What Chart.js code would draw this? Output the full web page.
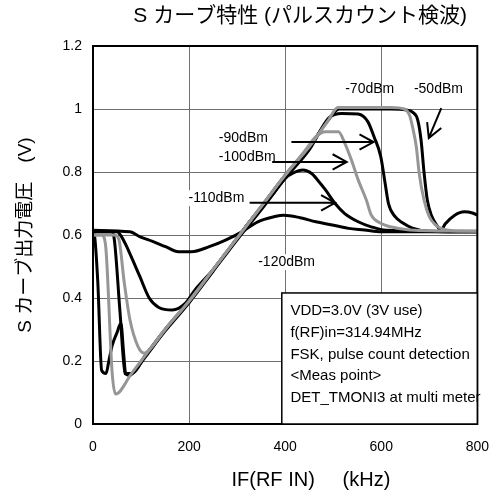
<!DOCTYPE html>
<html>
<head>
<meta charset="utf-8">
<script src="https://cdn.jsdelivr.net/npm/chart.js@4.4.0/dist/chart.umd.min.js"></script>
<style>
html, body { margin: 0; padding: 0; background: #fff; }
</style>
</head>
<body>
<canvas id="sCurve" width="504" height="497"></canvas>
<script>
// IF (kHz) / Sカーブ出力電圧 (V)
const ifM50 = [0, 3, 10, 18, 27, 33, 40, 50, 58, 64, 68, 80, 110, 150, 200, 250, 300, 350, 400, 450, 490, 512, 560, 620, 652, 665, 676, 683, 689, 696, 705, 716, 724, 733, 753, 773, 790, 800];
const vM50  = [0.61, 0.60, 0.45, 0.17, 0.16, 0.20, 0.25, 0.29, 0.32, 0.22, 0.16, 0.16, 0.22, 0.30, 0.39, 0.49, 0.59, 0.69, 0.79, 0.88, 0.965, 1.0, 1.0, 1.0, 0.997, 0.99, 0.965, 0.90, 0.80, 0.71, 0.66, 0.63, 0.615, 0.635, 0.663, 0.674, 0.67, 0.663];

const ifM70 = [0, 18, 26, 40, 47, 80, 110, 150, 200, 250, 300, 350, 400, 450, 490, 510, 560, 620, 648, 659, 665, 673, 679, 689, 700, 713, 726, 760, 800];
const vM70  = [0.60, 0.60, 0.57, 0.16, 0.095, 0.16, 0.22, 0.30, 0.39, 0.49, 0.59, 0.69, 0.79, 0.88, 0.965, 1.005, 1.005, 1.005, 1.0, 0.98, 0.944, 0.88, 0.796, 0.711, 0.658, 0.632, 0.62, 0.613, 0.613];

const ifM90 = [0, 38, 44, 56, 67, 77, 90, 110, 150, 200, 250, 300, 350, 400, 450, 491, 518, 552, 572, 585, 599, 608, 615, 629, 645, 665, 700, 800];
const vM90  = [0.61, 0.61, 0.59, 0.36, 0.16, 0.155, 0.175, 0.215, 0.295, 0.385, 0.485, 0.585, 0.68, 0.78, 0.87, 0.972, 0.986, 0.984, 0.96, 0.912, 0.849, 0.765, 0.70, 0.658, 0.638, 0.622, 0.612, 0.61];

const ifM100 = [0, 45, 54, 65, 77, 94, 107, 120, 150, 200, 250, 300, 350, 400, 440, 464, 484, 511, 524, 538, 552, 569, 579, 599, 619, 659, 800];
const vM100  = [0.60, 0.60, 0.585, 0.45, 0.33, 0.245, 0.225, 0.24, 0.30, 0.39, 0.49, 0.59, 0.69, 0.79, 0.865, 0.912, 0.928, 0.928, 0.892, 0.838, 0.775, 0.711, 0.664, 0.637, 0.626, 0.616, 0.612];

const ifM110 = [0, 50, 57, 68, 77, 97, 117, 137, 165, 192, 212, 250, 300, 330, 377, 400, 417, 437, 455, 470, 484, 504, 524, 552, 579, 610, 800];
const vM110  = [0.61, 0.61, 0.60, 0.57, 0.54, 0.47, 0.40, 0.37, 0.362, 0.383, 0.425, 0.49, 0.59, 0.65, 0.735, 0.78, 0.797, 0.806, 0.795, 0.77, 0.743, 0.70, 0.668, 0.642, 0.626, 0.615, 0.61];

const ifM120 = [0, 77, 97, 124, 151, 178, 205, 242, 276, 310, 343, 377, 397, 431, 464, 498, 532, 565, 600, 800];
const vM120  = [0.615, 0.61, 0.595, 0.58, 0.563, 0.547, 0.547, 0.563, 0.584, 0.61, 0.642, 0.658, 0.663, 0.655, 0.642, 0.632, 0.621, 0.616, 0.61, 0.61];

const infoLines = [
    "VDD=3.0V (3V use)",
    "f(RF)in=314.94MHz",
    "FSK, pulse count detection",
    "<Meas point>",
    "DET_TMONI3 at multi meter"
];

const LATIN = '"Liberation Sans", Arial, sans-serif';
const MIXED = '"Liberation Sans", "Noto Sans CJK JP", sans-serif';

function pts(xs, ys) {
    return xs.map((v, i) => ({x: v, y: ys[i]}));
}

function curve(label, xs, ys, color, order) {
    return {
        label: label,
        data: pts(xs, ys),
        borderColor: color,
        borderWidth: 3,
        pointRadius: 0,
        cubicInterpolationMode: "monotone",
        order: order
    };
}

/*
Zeichnet ein offenes Pfeil-Ende.
 */
function arrow(ctx, x1, y1, x2, y2) {
    const ang = Math.atan2(y2 - y1, x2 - x1);
    const len = 16, spread = 0.5;
    ctx.beginPath();
    ctx.moveTo(x1, y1);
    ctx.lineTo(x2, y2);
    ctx.moveTo(x2 - len * Math.cos(ang - spread), y2 - len * Math.sin(ang - spread));
    ctx.lineTo(x2, y2);
    ctx.lineTo(x2 - len * Math.cos(ang + spread), y2 - len * Math.sin(ang + spread));
    ctx.stroke();
}

// labels, arrows, frame, info box, titles
const decorations = {
    id: "decorations",
    afterDatasetsDraw(chart) {
        const {ctx, chartArea: a, scales: {x, y}} = chart;
        const px = v => x.getPixelForValue(v);
        const py = v => y.getPixelForValue(v);
        ctx.save();

        // frame
        ctx.strokeStyle = "#000";
        ctx.lineWidth = 2;
        ctx.strokeRect(a.left, a.top, a.right - a.left, a.bottom - a.top);

        ctx.font = "14px " + LATIN;
        ctx.fillStyle = "#000";
        ctx.textBaseline = "middle";

        // white backed labels
        [["-110dBm", 199, 0.717, "left"], ["-120dBm", 403, 0.514, "center"]].forEach(l => {
            ctx.textAlign = l[3];
            const w = ctx.measureText(l[0]).width;
            const x0 = l[3] === "center" ? px(l[1]) - w / 2 : px(l[1]);
            ctx.fillStyle = "#fff";
            ctx.fillRect(x0 - 1, py(l[2]) - 8, w + 2, 16);
            ctx.fillStyle = "#000";
            ctx.fillText(l[0], px(l[1]), py(l[2]));
        });
        ctx.textAlign = "center";
        ctx.fillText("-70dBm", px(576), py(1.063));
        ctx.fillText("-50dBm", px(719), py(1.063));
        ctx.textAlign = "left";
        ctx.fillText("-90dBm", px(262), py(0.908));
        ctx.fillText("-100dBm", px(262), py(0.846));

        ctx.lineWidth = 2;
        arrow(ctx, px(725), py(1.003), px(699), py(0.908));
        arrow(ctx, px(413), py(0.895), px(584), py(0.895));
        arrow(ctx, px(373), py(0.832), px(528), py(0.832));
        arrow(ctx, px(326), py(0.702), px(504), py(0.702));

        // info box
        const bx = px(393), by = py(0.416);
        ctx.fillStyle = "#fff";
        ctx.fillRect(bx, by, a.right - bx, a.bottom - by);
        ctx.lineWidth = 1.5;
        ctx.strokeStyle = "#000";
        ctx.strokeRect(bx, by, a.right - bx, a.bottom - by);
        ctx.fillStyle = "#000";
        ctx.font = "15px " + LATIN;
        infoLines.forEach((t, i) => {
            ctx.fillText(t, px(411), py(0.359 - i * 0.069));
        });

        // chart title and x axis title
        ctx.textAlign = "center";
        ctx.font = "21px " + MIXED;
        ctx.fillText("S カーブ特性 (パルスカウント検波)", a.left + 0.539 * (a.right - a.left), 16);
        ctx.font = "20px " + LATIN;
        ctx.fillText("IF(RF IN)     (kHz)", a.left + 0.567 * (a.right - a.left), 480);
        ctx.restore();
    }
};

const ctx = document.getElementById("sCurve");
const sCurveChart = new Chart(ctx, {
    type: "line",
    data: {
        datasets: [
            curve("-50dBm", ifM50, vM50, "#000", 1),
            curve("-70dBm", ifM70, vM70, "#969696", 0),
            curve("-90dBm", ifM90, vM90, "#000", 1),
            curve("-100dBm", ifM100, vM100, "#969696", 0),
            curve("-110dBm", ifM110, vM110, "#000", 1),
            curve("-120dBm", ifM120, vM120, "#000", 1)
        ]
    },
    options: {
        responsive: false,
        animation: false,
        devicePixelRatio: 1,
        layout: {
            padding: {top: 46, right: 14, bottom: 0, left: 0}
        },
        plugins: {
            legend: {display: false},
            tooltip: {enabled: false}
        },
        scales: {
            x: {
                type: "linear",
                min: 0,
                max: 800,
                ticks: {
                    stepSize: 200,
                    color: "#000",
                    padding: 15,
                    maxRotation: 0,
                    font: {family: LATIN, size: 14}
                },
                grid: {color: "#707070", lineWidth: 1, drawTicks: false},
                border: {display: false},
                afterFit: function (scale) {
                    scale.height = 73;
                }
            },
            y: {
                min: 0,
                max: 1.2,
                ticks: {
                    stepSize: 0.2,
                    color: "#000",
                    padding: 11,
                    font: {family: LATIN, size: 14},
                    callback: function (value) {
                        return String(Math.round(value * 10) / 10);
                    }
                },
                grid: {color: "#707070", lineWidth: 1, drawTicks: false},
                border: {display: false},
                title: {
                    display: true,
                    text: "S カーブ出力電圧　(V)",
                    color: "#000",
                    font: {family: MIXED, size: 19, weight: "normal"},
                    padding: {top: 14, bottom: 0}
                },
                afterFit: function (scale) {
                    scale.width = 93;
                }
            }
        }
    },
    plugins: [decorations]
});
</script>
</body>
</html>
